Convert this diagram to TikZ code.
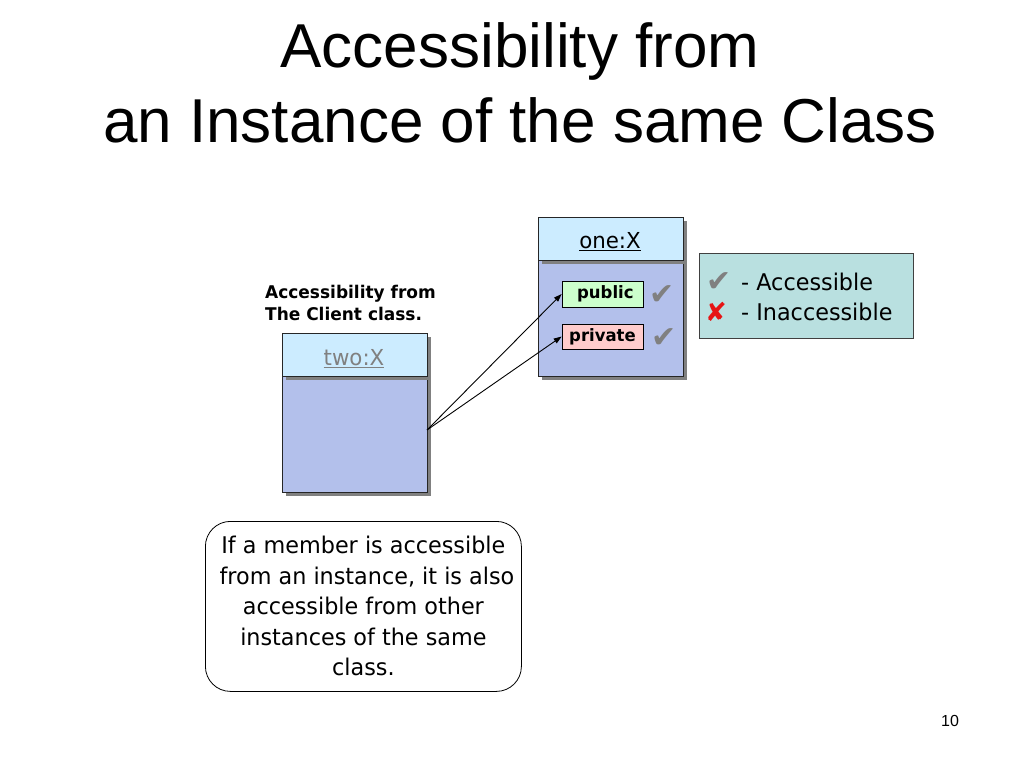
\documentclass[tikz,border=0pt]{standalone}
\usepackage{fontspec}
\setmainfont{Liberation Sans}
\newfontfamily\tah[FakeStretch=0.97]{DejaVu Sans}
\newfontfamily\sym{DejaVu Sans}
\usetikzlibrary{arrows.meta,shadows}
\definecolor{hdr}{RGB}{204,236,255}
\definecolor{bdy}{RGB}{179,192,235}
\definecolor{shd}{RGB}{128,128,128}
\definecolor{pubc}{RGB}{204,255,204}
\definecolor{prvc}{RGB}{255,204,204}
\definecolor{legc}{RGB}{185,224,224}
\definecolor{chk}{RGB}{128,128,128}
\definecolor{xred}{RGB}{230,20,20}
\begin{document}
\begin{tikzpicture}[x=1pt,y=-1pt,
  part/.style={draw=black!85, line width=0.8pt, minimum width=145pt, inner sep=0pt,
    anchor=north west, drop shadow={shadow xshift=4pt,shadow yshift=-4pt,fill=shd,opacity=1}},
  member/.style={draw=black, line width=0.7pt, minimum width=81pt, inner sep=0pt,
    font=\tah\bfseries\fontsize{17}{17}\selectfont},
  checkmark/.style={font=\sym\fontsize{30}{30}\selectfont, text=chk, inner sep=0pt},
  conn/.style={line width=0.9pt, -{Triangle[length=8pt,width=5.5pt]}},
  body/.style={font=\tah\fontsize{23}{30.5}\selectfont, inner sep=0pt}
]
\useasboundingbox (0,0) rectangle (1024,768);
% title
\node[anchor=base, inner sep=0pt, font=\fontsize{62}{62}\selectfont] (t1) at (520,67) {Accessibility from};
\node[anchor=base, inner sep=0pt, font=\fontsize{62}{62}\selectfont] (t2) at (520,142) {an Instance of the same Class};
% two:X
\node[part, fill=bdy, minimum height=116pt] (twob) at (282,376) {};
\node[part, fill=hdr, minimum height=43pt] (twoh) at (282,333) {};
\node[anchor=base, inner sep=0pt, font=\tah\fontsize{22}{22}\selectfont, text=shd] (twol) at (354,365) {\underline{two:X}};
% one:X
\node[part, fill=bdy, minimum height=116pt] (oneb) at (538,260) {};
\node[part, fill=hdr, minimum height=43pt] (oneh) at (538,217) {};
\node[anchor=base, inner sep=0pt, font=\tah\fontsize{22}{22}\selectfont] (onel) at (610,248) {\underline{one:X}};
\node[member, fill=pubc, minimum height=26pt] (pub) at (602.5,294) {\ public};
\node[member, fill=prvc, minimum height=25pt] (prv) at (602.5,336.5) {private};
\node[checkmark] (c1) at (662,295) {✔};
\node[checkmark] (c2) at (664,338) {✔};
% legend
\node[draw=black!75, line width=0.7pt, fill=legc, minimum width=214pt, minimum height=85pt, anchor=north west, inner sep=0pt] (leg) at (699,253) {};
\node[checkmark, anchor=base west] (lc) at (706,291) {✔};
\node[anchor=base west, inner sep=0pt, font=\tah\fontsize{23}{23}\selectfont] (la) at (741,290) {- Accessible};
\node[anchor=base west, inner sep=0pt, font=\sym\bfseries\fontsize{26}{26}\selectfont, text=xred] (lx) at (705,321) {✘};
\node[anchor=base west, inner sep=0pt, font=\tah\fontsize{23}{23}\selectfont] (li) at (741,320) {- Inaccessible};
% client label
\node[anchor=base west, inner sep=0pt, align=left, font=\tah\bfseries\fontsize{17.5}{22}\selectfont] (cl) at (265,320) {Accessibility from\\The Client class.};
% connectors
\coordinate (src) at (427,430);
\draw[conn] (src) -- (pub.west);
\draw[conn] (src) -- (prv.west);
% note
\node[draw=black, line width=0.8pt, rounded corners=25pt, minimum width=316pt, minimum height=170pt, anchor=north west, inner sep=0pt] (note) at (205,521) {};
\node[body, align=center] (notet) at (note.center) {If a member is accessible\\\ from an instance, it is also\\accessible from other\ \\instances of the same\\class.};
% page number
\node[anchor=base, inner sep=0pt, font=\fontsize{16}{16}\selectfont] (pg) at (950,726) {10};
\end{tikzpicture}
\end{document}
